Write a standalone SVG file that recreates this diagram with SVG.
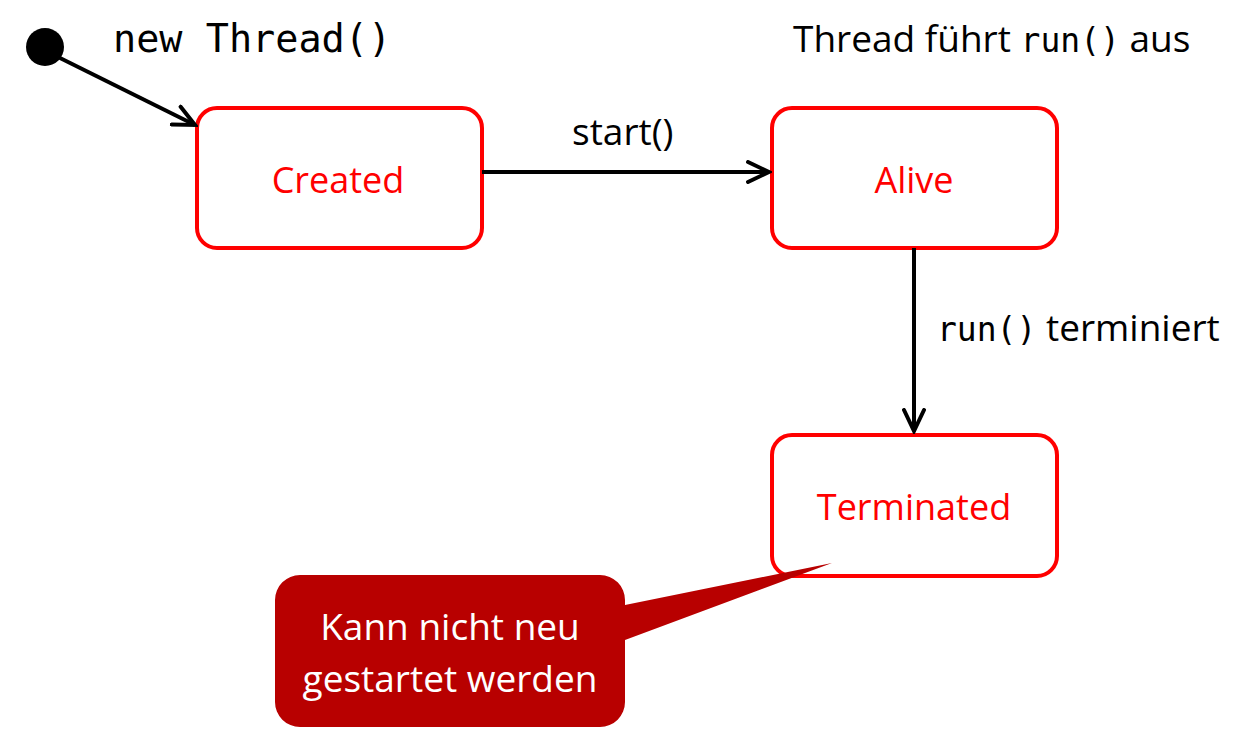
<svg xmlns="http://www.w3.org/2000/svg" width="1240" height="735" viewBox="0 0 1240 735">
<style>
.state{fill:#fff;stroke:#ff0000;stroke-width:4}
.slabel{font-family:"Open Sans","Liberation Sans",sans-serif;font-size:36px;fill:#ff0000;text-anchor:middle}
.lbl{font-family:"Open Sans","Liberation Sans",sans-serif;font-size:37px;fill:#000}
.mono{font-family:"DejaVu Sans Mono","Liberation Mono",monospace}
.edge{stroke:#000;stroke-width:4;fill:none}
.note{font-family:"Open Sans","Liberation Sans",sans-serif;font-size:37px;fill:#fff;text-anchor:middle}
</style>
<defs>
<marker id="arr" markerWidth="26" markerHeight="24" refX="23" refY="12" orient="auto" markerUnits="userSpaceOnUse">
<path d="M2,2 L23,12 L2,22" fill="none" stroke="#000" stroke-width="4" stroke-linecap="round" stroke-linejoin="miter"/>
</marker>
</defs>
<g id="start">
<circle cx="45" cy="47" r="19" fill="#000"/>
</g>
<g id="created">
<rect class="state" x="197" y="108" width="285" height="140" rx="20"/>
<text class="slabel" x="338" y="193">Created</text>
</g>
<g id="alive">
<rect class="state" x="772" y="108" width="285" height="140" rx="20"/>
<text class="slabel" x="914" y="193">Alive</text>
</g>
<g id="terminated">
<rect class="state" x="772" y="435" width="285" height="141" rx="20"/>
<text class="slabel" x="914" y="520">Terminated</text>
</g>
<g id="connectors">
<line class="edge" x1="58" y1="57" x2="195" y2="125" marker-end="url(#arr)"/>
<line class="edge" x1="482" y1="172" x2="769" y2="172" marker-end="url(#arr)"/>
<line class="edge" x1="914" y1="248" x2="914" y2="431" marker-end="url(#arr)"/>
<text class="mono" x="113" y="52" font-size="38.5" fill="#000">new Thread()</text>
<text class="lbl" x="572" y="145">start()</text>
<text class="lbl" x="937" y="341"><tspan class="mono" font-size="33">run()</tspan> terminiert</text>
<text class="lbl" x="793" y="52">Thread führt <tspan class="mono" font-size="33">run()</tspan> aus</text>
</g>
<g id="note">
<path d="M300,575 H600 A25,25 0 0 1 625,600 V605 L832,563 L625,640 V702 A25,25 0 0 1 600,727 H300 A25,25 0 0 1 275,702 V600 A25,25 0 0 1 300,575 Z" fill="#b80000"/>
<text class="note" x="450" y="640">Kann nicht neu</text>
<text class="note" x="450" y="692">gestartet werden</text>
</g>
</svg>
